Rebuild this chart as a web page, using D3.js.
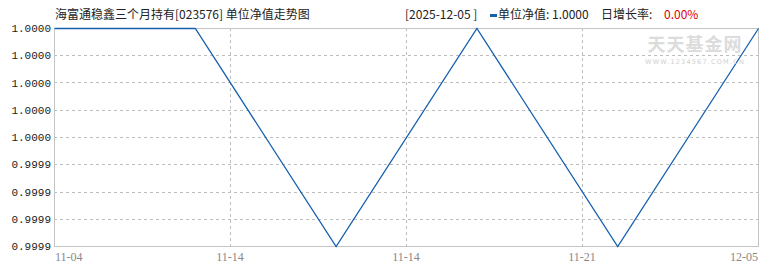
<!DOCTYPE html>
<html>
<head>
<meta charset="utf-8">
<script src="https://cdn.jsdelivr.net/npm/d3@7"></script>
<style>
  body { margin: 0; background: #fff; }
  svg { display: block; }
</style>
</head>
<body>
<div class="navChart"></div>
<script>
// Chart data
const navDates = ["11-04", "11-07", "11-14", "11-21", "11-28", "12-05"];
const navValues = [1.0000, 1.0000, 0.9999, 1.0000, 0.9999, 1.0000];
const xTickLabels = ["11-04", "11-14", "11-14", "11-21", "12-05"];
const yTickLabels = ["0.9999", "0.9999", "0.9999", "0.9999", "1.0000", "1.0000", "1.0000", "1.0000", "1.0000"];
const title = "海富通稳鑫三个月持有[023576] 单位净值走势图";
const lastDate = "2025-12-05";
const lastNav = "1.0000";
const lastRate = "0.00%";

// Sizes
const totalW = 770, totalH = 270;
const margin = { top: 28, right: 12, bottom: 24, left: 54 },
  width = totalW - margin.left - margin.right,
  height = totalH - margin.top - margin.bottom;

const svg = d3.select(".navChart")
  .append("svg")
  .attr("width", totalW)
  .attr("height", totalH);

const g = svg.append("g")
  .attr("transform", `translate(${margin.left},${margin.top})`);

// Scales
const x = d3.scaleLinear()
  .domain([0, navValues.length - 1])
  .range([0, width]);

const xTick = d3.scaleLinear()
  .domain([0, xTickLabels.length - 1])
  .range([0, width]);

const yMin = d3.min(navValues), yMax = d3.max(navValues);
const y = d3.scaleLinear()
  .domain([yMin, yMax])
  .range([height, 0]);

const yTicks = yTickLabels.map((d, i) => yMin + i * (yMax - yMin) / (yTickLabels.length - 1));

// Grid lines
g.append("g")
  .selectAll("line")
  .data(yTicks.slice(1, -1))
  .join("line")
  .attr("x1", 0)
  .attr("x2", width)
  .attr("y1", d => Math.round(y(d)) + 0.5)
  .attr("y2", d => Math.round(y(d)) + 0.5)
  .attr("stroke", "#bdbdbd")
  .attr("stroke-dasharray", "3,3");

g.append("g")
  .selectAll("line")
  .data(d3.range(1, xTickLabels.length - 1))
  .join("line")
  .attr("x1", d => Math.round(xTick(d)) + 0.5)
  .attr("x2", d => Math.round(xTick(d)) + 0.5)
  .attr("y1", 0)
  .attr("y2", height)
  .attr("stroke", "#bdbdbd")
  .attr("stroke-dasharray", "3,3");

// Watermark
svg.append("text")
  .attr("x", 695)
  .attr("y", 51)
  .attr("text-anchor", "middle")
  .attr("font-family", "Noto Sans CJK SC")
  .attr("font-weight", "bold")
  .attr("font-size", 18)
  .attr("letter-spacing", 1)
  .attr("fill", "#dcdcdc")
  .text("天天基金网");

svg.append("text")
  .attr("x", 695)
  .attr("y", 64)
  .attr("text-anchor", "middle")
  .attr("font-family", "DejaVu Sans")
  .attr("font-size", 6.5)
  .attr("letter-spacing", 1.2)
  .attr("fill", "#d0d0d0")
  .text("WWW.1234567.COM.CN");

// Plot frame
g.append("rect")
  .attr("x", 0.5)
  .attr("y", 0.5)
  .attr("width", width)
  .attr("height", height)
  .attr("fill", "none")
  .attr("stroke", "#c4c4c4")
  .attr("stroke-width", 1);

// NAV line
const line = d3.line()
  .x((d, i) => x(i) + 0.5)
  .y(d => y(d) + 0.5);

g.append("path")
  .datum(navValues)
  .attr("fill", "none")
  .attr("stroke", "#1660b0")
  .attr("stroke-width", 1.3)
  .attr("d", line);

// Y axis labels
g.append("g")
  .selectAll("text")
  .data(yTicks)
  .join("text")
  .attr("x", -3)
  .attr("y", d => y(d) + 4)
  .attr("text-anchor", "end")
  .attr("font-family", "Liberation Mono")
  .attr("font-size", 11)
  .attr("fill", "#222")
  .text((d, i) => yTickLabels[i]);

// X axis labels
g.append("g")
  .selectAll("text")
  .data(xTickLabels)
  .join("text")
  .attr("x", (d, i) => xTick(i) + (i === 0 ? 1 : 0))
  .attr("y", height + 15)
  .attr("text-anchor", (d, i) => i === 0 ? "start" : (i === xTickLabels.length - 1 ? "end" : "middle"))
  .attr("font-family", "Liberation Serif")
  .attr("font-size", 12)
  .attr("fill", "#888")
  .text(d => d);

// Title
svg.append("text")
  .attr("x", 55)
  .attr("y", 19)
  .attr("font-family", "Noto Sans CJK SC")
  .attr("font-size", 12)
  .attr("fill", "#222")
  .text(title);

// Header on the right
const headerFont = { family: "Noto Sans CJK SC", size: 12 };

function headerText(xPos, txt, color) {
  return svg.append("text")
    .attr("x", xPos)
    .attr("y", 19)
    .attr("font-family", headerFont.family)
    .attr("font-size", headerFont.size)
    .attr("fill", color || "#222")
    .text(txt);
}

headerText(405, `[${lastDate} ]`);
svg.append("rect")
  .attr("x", 490)
  .attr("y", 14)
  .attr("width", 7)
  .attr("height", 3)
  .attr("fill", "#1660b0");
headerText(498, `单位净值: ${lastNav}`);
headerText(601, "日增长率:");
headerText(664, lastRate, "#e00000");
</script>
</body>
</html>
